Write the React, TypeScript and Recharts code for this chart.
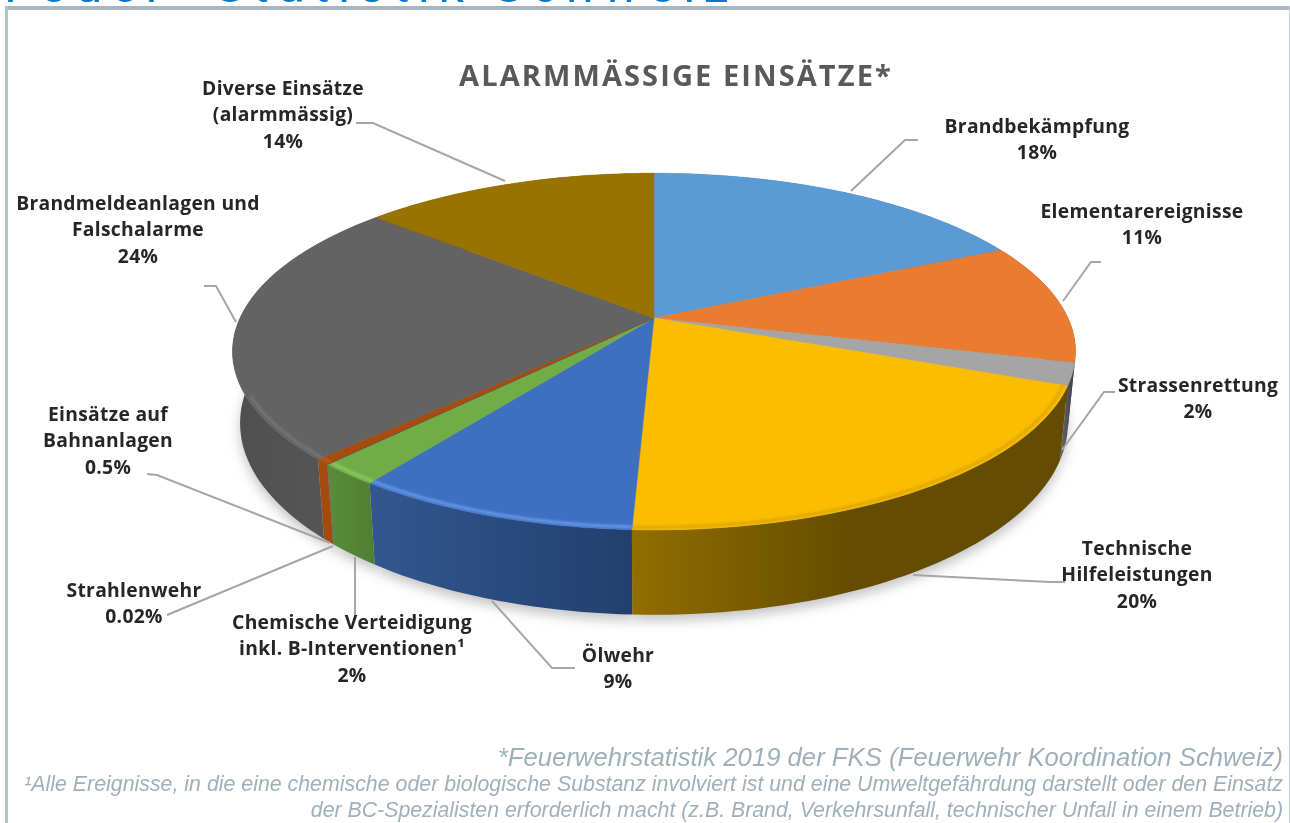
import { PieChart, Pie } from 'recharts';

// Werte; die Beschriftungen sind gerundet
const categories = [
  'Brandbekämpfung',
  'Elementarereignisse',
  'Strassenrettung',
  'Technische Hilfeleistungen',
  'Ölwehr',
  'Chemische Verteidigung',
  'Strahlenwehr',
  'Einsätze auf Bahnanlagen',
  'Brandmeldeanlagen und Falschalarme',
  'Diverse Einsätze',
];
const shares = [18, 11, 2, 19.7, 9.2, 2, 0.02, 0.5, 24, 13.6];
const labelTexts = [
  ['Brandbekämpfung', '18%'],
  ['Elementarereignisse', '11%'],
  ['Strassenrettung', '2%'],
  ['Technische', 'Hilfeleistungen', '20%'],
  ['Ölwehr', '9%'],
  ['Chemische Verteidigung', 'inkl. B-Interventionen¹', '2%'],
  ['Strahlenwehr', '0.02%'],
  ['Einsätze auf', 'Bahnanlagen', '0.5%'],
  ['Brandmeldeanlagen und', 'Falschalarme', '24%'],
  ['Diverse Einsätze', '(alarmmässig)', '14%'],
];
const topColors = ['#5B9BD5', '#E97C30', '#A5A5A5', '#FBBD00', '#3F70C0', '#70AD47', '#264478', '#A84B0E', '#636363', '#997300'];
const rimColors = ['#5B9BD5', '#E97C30', '#A5A5A5', '#E0A800', '#6496EA', '#8CC860', '#264478', '#BC5A18', '#757575', '#997300'];
const wallColors = [
  ['#3F6E98', '#3F6E98'],
  ['#A0481A', '#8E3F14'],
  ['#63666A', '#3C3F44'],
  ['#926E00', '#644D00'],
  ['#32578F', '#223F6E'],
  ['#5A8C3A', '#507E33'],
  ['#1B3056', '#1B3056'],
  ['#A34B0E', '#A34B0E'],
  ['#4F4F4F', '#595959'],
  ['#6A5000', '#6A5000'],
];

const title = 'ALARMMÄSSIGE EINSÄTZE*';
// Im Original oben abgeschnitten, nur die Unterkanten der Buchstaben sind sichtbar
const pageHeading = 'Feuer- Statistik Schweiz';
const footnotes = [
  '*Feuerwehrstatistik 2019 der FKS (Feuerwehr Koordination Schweiz)',
  '¹Alle Ereignisse, in die eine chemische oder biologische Substanz involviert ist und eine Umweltgefährdung darstellt oder den Einsatz',
  'der BC-Spezialisten erforderlich macht (z.B. Brand, Verkehrsunfall, technischer Unfall in einem Betrieb)',
];

const tableData = categories.map((name, i) => ({ name, value: shares[i] }));

// Beschriftung: Mitte x, erste Zeile y, Führungslinie
const labelLayout = [
  { x: 1037, y: 133, line: '851,191 905,140 918,140' },
  { x: 1142, y: 218, line: '1063,301 1091,262 1101,262' },
  { x: 1198, y: 392, line: '1062,450 1104,392 1115,392' },
  { x: 1137, y: 555, line: '913,575 1050,582 1065,582' },
  { x: 618, y: 662, line: '492,601 552,668 575,668' },
  { x: 352, y: 629, line: '355,557 355,617' },
  { x: 134, y: 597, line: '333,546 167,615' },
  { x: 108, y: 421, line: '330,543 157,475 147,474' },
  { x: 138, y: 210, line: '236,322 216,286 204,286' },
  { x: 283, y: 95, line: '505,181 373,123 356,123' },
];

const CX = 654;
const CY = 318;
const RADIUS = 414;
const SQUASH = 0.4155;
const TILT = 0.188;
const DEPTH = 69;
const BOTTOM_SCALE = 0.982;

const project = (angle: number, r: number, R: number, cx: number, cy: number) => {
  const a = (angle * Math.PI) / 180;
  const u = (Math.cos(a) * r) / R;
  const v = (Math.sin(a) * r) / R;
  const w = 1 + TILT * v;
  return { x: cx + (R * u) / w, y: cy - (R * SQUASH * v) / w, w };
};

const arc = (start: number, end: number, r: number, R: number, cx: number, cy: number) => {
  const n = Math.max(2, Math.ceil(Math.abs(end - start) / 1.5));
  const pts = [];
  for (let i = 0; i <= n; i++) pts.push(project(start + ((end - start) * i) / n, r, R, cx, cy));
  return pts;
};

const toBottom = (p: { x: number; y: number; w: number }, cx: number, extra = 0) => ({
  x: cx + (p.x - cx) * BOTTOM_SCALE,
  y: p.y + DEPTH / p.w + extra,
  w: p.w,
});

const str = (pts: { x: number; y: number }[]) => pts.map((p) => `${p.x.toFixed(1)},${p.y.toFixed(1)}`).join(' ');

const indexOf = (props: any) => categories.indexOf(props.name ?? props.payload?.name);

const ShadowSlice = (props: any) => {
  const { cx, cy, startAngle, endAngle, outerRadius } = props;
  const pts = arc(startAngle, endAngle, outerRadius, outerRadius, cx, cy).map((p) => toBottom(p, cx, 6));
  const apex = { x: cx, y: cy + DEPTH };
  return <polygon points={str([apex, ...pts])} fill="#c4c4c4" filter="url(#softShadow)" />;
};

const WallSlice = (props: any) => {
  const { cx, cy, startAngle, endAngle, outerRadius } = props;
  const i = indexOf(props);
  const edge = arc(startAngle, endAngle, outerRadius, outerRadius, cx, cy);
  const lower = edge.map((p) => toBottom(p, cx)).reverse();
  return <polygon points={str([...edge, ...lower])} fill={`url(#wall${i})`} />;
};

const TopSlice = (props: any) => {
  const { cx, cy, startAngle, endAngle, outerRadius } = props;
  const i = indexOf(props);
  const pts = arc(startAngle, endAngle, outerRadius, outerRadius, cx, cy);
  // Lichtkante nur vorne, wo die Seitenwand sichtbar ist
  const from = Math.max(endAngle, -155);
  const to = Math.min(startAngle, -8);
  return (
    <g>
      <polygon points={str([{ x: cx, y: cy }, ...pts])} fill={topColors[i]} stroke={topColors[i]} strokeWidth={0.5} />
      {to > from && (
        <polyline
          points={str(arc(from, to, outerRadius * 0.99, outerRadius, cx, cy))}
          fill="none"
          stroke={rimColors[i]}
          strokeWidth={3}
          filter="url(#softRim)"
        />
      )}
    </g>
  );
};

const renderLabel = (props: any) => {
  const i = props.index;
  const spot = labelLayout[i];
  return (
    <g key={categories[i]}>
      <polyline points={spot.line} fill="none" stroke="#a6a6a6" strokeWidth={2} />
      <text
        x={spot.x}
        y={spot.y}
        textAnchor="middle"
        fontFamily="'Open Sans', sans-serif"
        fontWeight={700}
        fontSize={19.3}
        letterSpacing={0.3}
        fill="#262626"
      >
        {labelTexts[i].map((row, k) => (
          <tspan key={row} x={spot.x} dy={k === 0 ? 0 : 26.4}>
            {row}
          </tspan>
        ))}
      </text>
    </g>
  );
};

const App = () => {
  return (
    <div style={{ position: 'absolute', left: 0, top: 0, width: 1290, height: 823, overflow: 'hidden', background: '#fff', filter: 'blur(0.6px)' }}>
      <PieChart width={1290} height={823} margin={{ top: 0, right: 0, bottom: 0, left: 0 }}>
        <defs>
          <filter id="softShadow" x="-20%" y="-20%" width="140%" height="140%">
            <feGaussianBlur stdDeviation="6" />
          </filter>
          <filter id="softRim" x="-20%" y="-20%" width="140%" height="140%">
            <feGaussianBlur stdDeviation="1.2" />
          </filter>
          {wallColors.map((pair, i) => (
            <linearGradient key={i} id={`wall${i}`} x1="0" y1="0" x2="1" y2="0">
              <stop offset="0%" stopColor={pair[0]} />
              <stop offset={i === 3 ? '50%' : '100%'} stopColor={pair[1]} />
              <stop offset="100%" stopColor={pair[1]} />
            </linearGradient>
          ))}
        </defs>

        <text x={4} y={2} fontFamily="Roboto, sans-serif" fontSize={50} letterSpacing={8.5} fill="#0A78C8">
          {pageHeading}
        </text>
        <rect x={5} y={6} width={1285} height={4} fill="#A7B5BD" />
        <rect x={5} y={6} width={3} height={817} fill="#B4C2CB" />
        <rect x={1289} y={6} width={1} height={817} fill="#C4CED4" />

        <Pie data={tableData} dataKey="value" nameKey="name" cx={CX} cy={CY} outerRadius={RADIUS} startAngle={90} endAngle={-270} stroke="none" isAnimationActive={false} shape={ShadowSlice} />
        <Pie data={tableData} dataKey="value" nameKey="name" cx={CX} cy={CY} outerRadius={RADIUS} startAngle={90} endAngle={-270} stroke="none" isAnimationActive={false} shape={WallSlice} />
        <Pie data={tableData} dataKey="value" nameKey="name" cx={CX} cy={CY} outerRadius={RADIUS} startAngle={90} endAngle={-270} stroke="none" isAnimationActive={false} shape={TopSlice} label={renderLabel} labelLine={false} />

        <text x={676} y={86} textAnchor="middle" fontFamily="'Open Sans', sans-serif" fontWeight={700} fontSize={29} letterSpacing={2.1} fill="#595959">
          {title}
        </text>
        <g fontFamily="'Liberation Sans', sans-serif" fontStyle="italic" fill="#9FB0BB" textAnchor="end">
          <text x={1283} y={766} fontSize={25.7}>{footnotes[0]}</text>
          <text x={1283} y={791} fontSize={21.35}>{footnotes[1]}</text>
          <text x={1283} y={817} fontSize={21.3}>{footnotes[2]}</text>
        </g>
      </PieChart>
    </div>
  );
};

export default App;
